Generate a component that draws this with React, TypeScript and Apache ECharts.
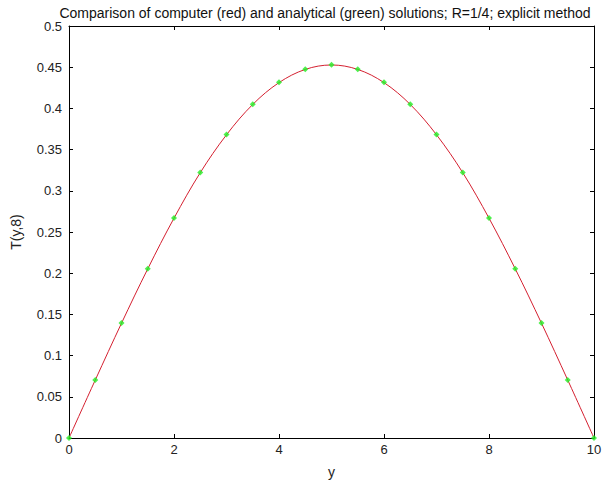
import React, { useEffect, useRef } from "react";
import * as echarts from "echarts";

const yPositions = [0, 0.5, 1, 1.5, 2, 2.5, 3, 3.5, 4, 4.5, 5, 5.5, 6, 6.5, 7, 7.5, 8, 8.5, 9, 9.5, 10];
const computerT = [0, 0.0703, 0.1393, 0.2053, 0.2668, 0.3220, 0.3680, 0.4048, 0.4313, 0.4473, 0.4527, 0.4473, 0.4313, 0.4048, 0.3680, 0.3220, 0.2668, 0.2053, 0.1393, 0.0703, 0];
const analyticalT = [0, 0.0705, 0.1396, 0.2055, 0.2671, 0.3222, 0.3683, 0.4051, 0.4316, 0.4476, 0.4530, 0.4476, 0.4316, 0.4051, 0.3683, 0.3222, 0.2671, 0.2055, 0.1396, 0.0705, 0];
const xTicks = [0, 2, 4, 6, 8, 10];
const yTicks = [0, 0.05, 0.1, 0.15, 0.2, 0.25, 0.3, 0.35, 0.4, 0.45, 0.5];

const FONT = "Liberation Sans, Arial, sans-serif";

export default function App() {
  const ref = useRef<HTMLDivElement>(null);
  useEffect(() => {
    const chart = echarts.init(ref.current!, null, { renderer: "svg" });
    const axisLine = { show: true, onZero: false, lineStyle: { color: "#000", width: 1 } };
    const tick = { show: true, inside: true, length: 4, lineStyle: { color: "#000" } };
    chart.setOption({
      animation: false,
      backgroundColor: "#fff",
      title: {
        text: "Comparison of computer (red) and analytical (green) solutions; R=1/4; explicit method",
        left: 320,
        textAlign: "center",
        top: 1,
        textStyle: { fontFamily: FONT, fontSize: 14, fontWeight: "normal", color: "#111" },
      },
      grid: { left: 69, right: 14, top: 26, bottom: 48 },
      xAxis: [
        {
          type: "value",
          min: 0,
          max: 10,
          interval: 2,
          position: "bottom",
          name: "y",
          nameLocation: "middle",
          nameGap: 27,
          nameTextStyle: { fontFamily: FONT, fontSize: 14, color: "#222" },
          axisLine,
          axisTick: tick,
          axisLabel: { fontFamily: FONT, fontSize: 13, color: "#222", margin: 5, formatter: (v: number) => (xTicks.includes(v) ? String(v) : "") },
          splitLine: { show: false },
        },
        {
          type: "value",
          min: 0,
          max: 10,
          interval: 2,
          position: "top",
          axisLine,
          axisTick: tick,
          axisLabel: { show: false },
          splitLine: { show: false },
        },
      ],
      yAxis: [
        {
          type: "value",
          min: 0,
          max: 0.5,
          interval: 0.05,
          position: "left",
          name: "T(y,8)",
          nameLocation: "middle",
          nameGap: 46,
          nameRotate: 90,
          nameTextStyle: { fontFamily: FONT, fontSize: 14, color: "#222" },
          axisLine,
          axisTick: tick,
          axisLabel: {
            fontFamily: FONT,
            fontSize: 13,
            color: "#222",
            margin: 7,
            formatter: (v: number) => {
              const t = yTicks.find((x) => Math.abs(x - v) < 1e-9);
              return t === undefined ? "" : String(Number(t.toFixed(2)));
            },
          },
          splitLine: { show: false },
        },
        {
          type: "value",
          min: 0,
          max: 0.5,
          interval: 0.05,
          position: "right",
          axisLine,
          axisTick: tick,
          axisLabel: { show: false },
          splitLine: { show: false },
        },
      ],
      series: [
        {
          type: "line",
          data: yPositions.map((x, i) => [x, computerT[i]]),
          smooth: 0.35,
          showSymbol: false,
          lineStyle: { color: "#d42030", width: 1 },
          z: 2,
        },
        {
          type: "scatter",
          data: yPositions.map((x, i) => [x, analyticalT[i]]),
          symbol: "diamond",
          symbolSize: 6,
          itemStyle: { color: "#22ee22" },
          z: 3,
        },
      ],
    });
    return () => chart.dispose();
  }, []);
  return <div ref={ref} style={{ width: 608, height: 486, position: "absolute", left: 0, top: 0 }} />;
}
